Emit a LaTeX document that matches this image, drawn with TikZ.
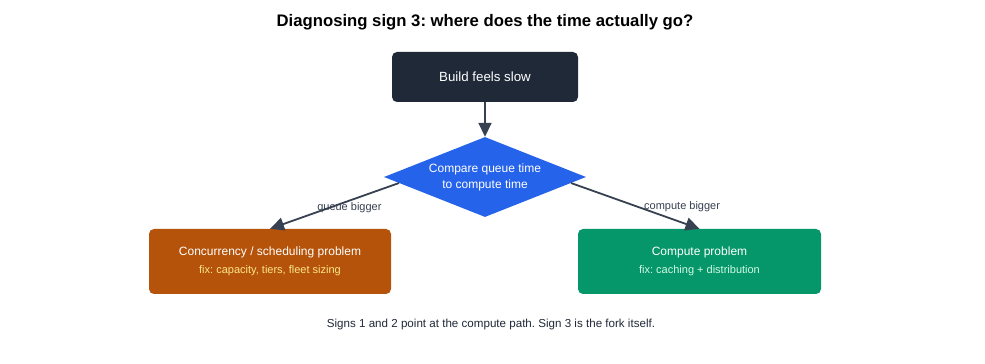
\documentclass[tikz,border=0pt]{standalone}
\usepackage{fontspec}
\setmainfont{Liberation Sans}
\usepackage{xcolor}
\usepackage{tikz}
\usetikzlibrary{shapes.geometric,arrows.meta,calc}
\frenchspacing
\definecolor{DGNavy}{HTML}{1F2937}
\definecolor{DGSlate}{HTML}{374151}
\definecolor{DGBlue}{HTML}{2563EB}
\definecolor{DGRust}{HTML}{B45309}
\definecolor{DGGreen}{HTML}{059669}
\definecolor{DGAmber}{HTML}{FDE68A}
\definecolor{DGMint}{HTML}{D1FAE5}
\tikzset{
  stepbox/.style={rectangle,rounded corners=5pt,text=white,align=center,inner sep=0pt},
  flow/.style={DGSlate,line width=1.8pt,-{Triangle[length=14pt,width=13pt]}},
  edgelabel/.style={text=DGSlate,font=\fontsize{11}{13}\selectfont}
}
\begin{document}
\begin{tikzpicture}[x=1pt,y=1pt]
\path[use as bounding box] (0,0) rectangle (985,364);
\fill[white] (0,0) rectangle (985,364);
\node (title) at (485,342) {\fontsize{16.7}{20}\selectfont\bfseries Diagnosing sign 3: where does the time actually go?};
\node[stepbox,fill=DGNavy,minimum width=186pt,minimum height=50pt,font=\fontsize{13.3}{16}\selectfont] (build) at (485,287) {Build feels slow};
\node[diamond,fill=DGBlue,text=white,align=center,inner sep=0pt,aspect=2.5,minimum width=202pt,minimum height=80pt,font=\fontsize{12}{16}\selectfont] (cmp) at (485,187) {Compare queue time\\to compute time};
\node[stepbox,fill=DGRust,minimum width=242pt,minimum height=65pt] (queue) at (270,102.5) {\fontsize{12}{14}\selectfont Concurrency / scheduling problem\\[6pt]
  {\fontsize{11}{13}\selectfont\color{DGAmber}fix: capacity, tiers, fleet sizing}};
\node[stepbox,fill=DGGreen,minimum width=243pt,minimum height=65pt] (compute) at (699.5,102.5) {\fontsize{12}{14}\selectfont Compute problem\\[6pt]
  {\fontsize{11}{13}\selectfont\color{DGMint}fix: caching + distribution}};
\node[text=DGNavy,font=\fontsize{11.6}{14}\selectfont] (note) at (491,39) {Signs 1 and 2 point at the compute path. Sign 3 is the fork itself.};
% connectors
\draw[flow] (build.south) -- (cmp.north);
\draw[flow] ($(cmp.west)!0.15!(cmp.south)$) -- (queue.north)
  node[edgelabel,pos=0.4,xshift=2pt,yshift=-6pt] {queue bigger};
\draw[flow] ($(cmp.east)!0.15!(cmp.south)$) -- (compute.north)
  node[edgelabel,pos=0.6,xshift=34pt,yshift=4pt] {compute bigger};
\end{tikzpicture}
\end{document}
